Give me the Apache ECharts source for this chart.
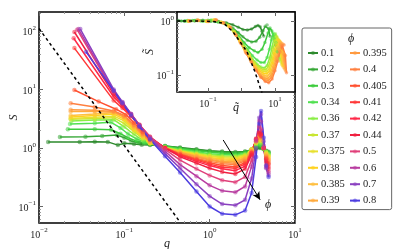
<!DOCTYPE html>
<html><head><meta charset="utf-8">
<script src="https://cdn.jsdelivr.net/npm/echarts@6/dist/echarts.min.js"></script>
<style>html,body{margin:0;padding:0;background:#fff}#c{width:395px;height:249px}</style>
</head><body><div id="c"></div>
<script>
// ---------- DATA ----------
const phis = ['0.1','0.2','0.3','0.34','0.36','0.37','0.375','0.38','0.385','0.39','0.395','0.4','0.405','0.41','0.42','0.44','0.5','0.6','0.7','0.8'];
const colors = ['#2d8a2d','#36a836','#3dcc3d','#50e050','#8aee45','#c8e632','#e8e030','#ffd21f','#ffbf40','#ffaa3c','#ff9a40','#ff8040','#ff5030','#ff3838','#ff2848','#f02040','#e0407a','#b83ca0','#8a40c0','#4c3ce0'];

// main panel: low-q points per phi [q, S]
const low01 = [[0.0128,1.27],[0.03,1.27],[0.045,1.28],[0.064,1.27],[0.084,1.12],[0.1,1.2],[0.13,1.17],[0.16,1.14]];
const low02 = [[0.0176,1.54],[0.035,1.55],[0.055,1.6],[0.082,1.66],[0.1,1.5],[0.12,1.32],[0.15,1.22]];
const low03 = [[0.0218,2.1],[0.045,2.1],[0.07,2.05],[0.09,1.75],[0.11,1.5],[0.14,1.3],[0.17,1.22]];
const low034 = [[0.0231,2.57],[0.045,2.65],[0.07,2.75],[0.09,2.2],[0.11,1.75],[0.14,1.42],[0.17,1.28]];
const low036 = [[0.024,2.9],[0.045,3.0],[0.075,3.05],[0.1,2.3],[0.13,1.7],[0.165,1.35]];
const low037 = [[0.0235,3.1],[0.045,3.2],[0.075,3.3],[0.1,2.6],[0.13,1.9],[0.165,1.45]];
const low0375 = [[0.0235,3.2],[0.045,3.35],[0.075,3.5],[0.1,2.9],[0.13,2.0],[0.165,1.5]];
const low038 = [[0.0235,3.4],[0.045,3.6],[0.075,3.8],[0.1,3.1],[0.13,2.1],[0.165,1.55]];
const low0385 = [[0.0235,3.6],[0.045,3.8],[0.075,4.0],[0.1,3.3],[0.13,2.2],[0.165,1.6]];
const low039 = [[0.0235,4.2],[0.045,4.2],[0.075,4.1],[0.1,3.4],[0.13,2.3],[0.165,1.65]];
const low0395 = [[0.0235,4.5],[0.045,4.4],[0.075,4.2],[0.1,3.5],[0.13,2.4],[0.165,1.7]];
const low04 = [[0.0235,5.8],[0.045,5.0],[0.075,4.3],[0.1,3.6],[0.13,2.5],[0.165,1.75]];
const low0405 = [[0.026,9.8],[0.05,6.2],[0.08,4.6],[0.105,3.7],[0.13,2.7],[0.165,1.85]];
const low041 = [[0.026,51],[0.075,6.5],[0.095,4.8],[0.12,3.5],[0.15,2.4]];
const low042 = [[0.0255,75],[0.075,7.5],[0.095,5.2],[0.12,3.6],[0.15,2.45]];
const low044 = [[0.026,96],[0.075,8.3],[0.095,5.6],[0.12,3.7],[0.15,2.5]];
const low05 = [[0.028,105],[0.075,9.0],[0.095,5.8],[0.12,3.8],[0.15,2.5]];
const low06 = [[0.029,108],[0.075,9.5],[0.095,6.0],[0.12,3.8],[0.15,2.45]];
const low07 = [[0.0305,108],[0.075,10],[0.095,6.1],[0.12,3.8],[0.15,2.4]];
const low08 = [[0.0356,44],[0.075,9.5],[0.095,5.8],[0.12,3.6],[0.15,2.3]];

// main panel: higher-q values on a shared q grid
const qTail = [0.2,0.3,0.45,0.7,1.0,1.4,2.0,2.6,3.1,3.5,3.8,4.0,4.3,4.6,4.9];
const tail01 = [1.12,1.08,1.02,0.95,0.9,0.87,0.85,0.87,0.92,0.98,1.0,1.0,0.95,0.9,0.86];
const tail02 = [1.15,1.08,1.0,0.93,0.88,0.85,0.83,0.86,0.93,1.02,1.06,1.05,0.96,0.88,0.84];
const tail03 = [1.17,1.07,0.98,0.9,0.85,0.81,0.8,0.84,0.93,1.06,1.12,1.1,0.96,0.86,0.82];
const tail034 = [1.2,1.05,0.95,0.86,0.8,0.77,0.76,0.8,0.92,1.1,1.18,1.15,0.96,0.85,0.8];
const tail036 = [1.2,1.03,0.92,0.83,0.77,0.74,0.73,0.78,0.93,1.15,1.26,1.22,0.97,0.83,0.78];
const tail037 = [1.2,1.02,0.9,0.8,0.74,0.71,0.7,0.76,0.95,1.2,1.32,1.3,1.0,0.85,0.75];
const tail0375 = [1.2,1.0,0.88,0.78,0.72,0.68,0.67,0.74,0.95,1.22,1.38,1.33,1.0,0.82,0.72];
const tail038 = [1.22,1.0,0.86,0.76,0.69,0.65,0.64,0.71,0.93,1.25,1.42,1.36,1.0,0.8,0.7];
const tail0385 = [1.25,1.0,0.85,0.74,0.67,0.62,0.61,0.68,0.92,1.28,1.48,1.4,1.0,0.78,0.67];
const tail039 = [1.28,1.0,0.84,0.72,0.64,0.59,0.58,0.66,0.9,1.3,1.52,1.45,1.0,0.75,0.64];
const tail0395 = [1.3,1.0,0.82,0.7,0.62,0.57,0.55,0.63,0.88,1.32,1.58,1.48,1.0,0.72,0.61];
const tail04 = [1.35,1.0,0.8,0.67,0.59,0.54,0.52,0.6,0.86,1.35,1.63,1.52,1.0,0.7,0.58];
const tail0405 = [1.4,1.0,0.78,0.64,0.56,0.5,0.48,0.56,0.84,1.38,1.7,1.57,1.0,0.67,0.55];
const tail041 = [1.45,1.0,0.76,0.62,0.53,0.47,0.45,0.53,0.82,1.4,1.75,1.62,1.0,0.64,0.52];
const tail042 = [1.5,1.0,0.74,0.59,0.5,0.44,0.41,0.49,0.8,1.42,1.8,1.66,1.0,0.6,0.48];
const tail044 = [1.55,1.0,0.71,0.55,0.45,0.39,0.36,0.44,0.76,1.45,1.9,1.75,1.0,0.56,0.44];
const tail05 = [1.55,0.95,0.62,0.44,0.34,0.28,0.26,0.32,0.62,1.4,2.3,2.1,1.0,0.5,0.4];
const tail06 = [1.5,0.88,0.52,0.33,0.23,0.185,0.175,0.22,0.48,1.3,2.9,2.8,1.1,0.47,0.37];
const tail07 = [1.45,0.8,0.45,0.24,0.15,0.11,0.105,0.13,0.3,1.0,3.3,3.8,1.3,0.45,0.34];
const tail08 = [1.4,0.72,0.38,0.18,0.1,0.075,0.072,0.085,0.17,0.7,2.6,4.3,1.5,0.5,0.32];

// main dashed guide line
const dashMain = [[0.01,110],[0.45,0.054]];
// arrow annotation (from, to) and its label position
const arrowFrom = [1.44,1.37];
const arrowTo = [3.9,0.13];
const arrowLabelAt = [4.85,0.108];

// inset: rescaled curves [q~, S~]
const in01 = [[0.013,1.02],[0.02,0.99],[0.03,1.0],[0.045,1.03],[0.07,1.0],[0.12,1.0],[0.2,0.98],[0.35,0.93],[0.55,0.85],[0.8,0.77],[1.1,0.7],[1.5,0.68],[2.0,0.71],[2.6,0.79],[3.1,0.83],[3.6,0.78],[4.1,0.65],[4.6,0.53]];
const in02 = [[0.016,1.0],[0.025,1.02],[0.04,1.0],[0.07,1.03],[0.12,0.99],[0.2,0.96],[0.35,0.88],[0.55,0.74],[0.8,0.61],[1.1,0.51],[1.5,0.44],[2.0,0.41],[2.7,0.42],[3.5,0.5],[4.4,0.66],[5.1,0.8],[5.8,0.84],[6.4,0.72],[7.1,0.52]];
const in03 = [[0.02,1.0],[0.035,1.02],[0.06,1.0],[0.1,1.03],[0.16,0.98],[0.25,0.94],[0.4,0.83],[0.6,0.66],[0.85,0.52],[1.2,0.4],[1.7,0.32],[2.4,0.28],[3.1,0.26],[4.1,0.3],[5.0,0.4],[6.2,0.6],[7.1,0.74],[8.0,0.66],[9.3,0.48],[10.5,0.36]];
const in034 = [[0.022,1.0],[0.04,1.02],[0.07,0.99],[0.12,1.03],[0.2,0.97],[0.32,0.9],[0.5,0.73],[0.75,0.54],[1.05,0.4],[1.5,0.3],[2.1,0.23],[2.9,0.19],[3.8,0.17],[4.8,0.17],[5.8,0.21],[6.8,0.3],[7.8,0.45],[8.8,0.6],[9.7,0.56],[10.7,0.4],[11.5,0.27]];
const in036 = [[0.025,1.0],[0.045,1.02],[0.08,1.0],[0.13,1.04],[0.22,0.96],[0.35,0.87],[0.55,0.68],[0.8,0.5],[1.1,0.37],[1.5,0.28],[2.1,0.2],[2.9,0.16],[3.8,0.14],[4.8,0.135],[5.8,0.15],[7.0,0.21],[8.2,0.33],[9.3,0.48],[10.3,0.58],[11.2,0.5],[12.2,0.32],[13.2,0.2]];
const in037 = [[0.025,1.0],[0.05,1.02],[0.09,0.99],[0.15,1.04],[0.25,0.95],[0.4,0.84],[0.6,0.64],[0.85,0.47],[1.2,0.33],[1.7,0.24],[2.4,0.17],[3.3,0.14],[4.3,0.127],[5.3,0.125],[6.4,0.145],[7.6,0.2],[8.8,0.3],[10.0,0.43],[11.2,0.52],[12.2,0.46],[13.3,0.3],[14.3,0.18]];
const in0375 = [[0.026,1.0],[0.05,1.03],[0.09,0.98],[0.15,1.05],[0.25,0.95],[0.4,0.83],[0.6,0.63],[0.85,0.46],[1.2,0.32],[1.7,0.23],[2.4,0.16],[3.3,0.13],[4.4,0.117],[5.5,0.115],[6.7,0.13],[8.0,0.18],[9.3,0.27],[10.7,0.38],[12.0,0.47],[13.2,0.43],[14.4,0.28],[15.6,0.16]];
const in038 = [[0.026,1.0],[0.05,1.02],[0.09,1.0],[0.16,1.04],[0.26,0.94],[0.42,0.8],[0.62,0.6],[0.88,0.43],[1.25,0.3],[1.75,0.21],[2.5,0.15],[3.4,0.12],[4.5,0.107],[5.7,0.105],[7.0,0.12],[8.4,0.165],[9.8,0.25],[11.3,0.35],[12.8,0.44],[14.0,0.42],[15.3,0.27],[16.6,0.15]];
const in0385 = [[0.027,1.0],[0.05,1.02],[0.1,0.98],[0.16,1.05],[0.27,0.93],[0.43,0.79],[0.64,0.58],[0.9,0.41],[1.3,0.28],[1.8,0.2],[2.6,0.14],[3.5,0.11],[4.6,0.098],[5.9,0.095],[7.3,0.11],[8.8,0.15],[10.3,0.23],[12.0,0.33],[13.6,0.42],[15.0,0.4],[16.3,0.26],[17.6,0.14]];
const in039 = [[0.027,1.0],[0.05,1.03],[0.1,0.99],[0.17,1.04],[0.28,0.93],[0.45,0.77],[0.66,0.56],[0.93,0.4],[1.3,0.27],[1.85,0.19],[2.6,0.13],[3.6,0.1],[4.8,0.089],[6.1,0.086],[7.6,0.1],[9.2,0.14],[10.9,0.21],[12.7,0.31],[14.6,0.39],[16.2,0.38],[17.7,0.25],[19.0,0.13]];
const in0395 = [[0.028,1.0],[0.05,1.02],[0.1,0.98],[0.17,1.05],[0.29,0.92],[0.46,0.76],[0.68,0.55],[0.95,0.39],[1.35,0.26],[1.9,0.18],[2.7,0.125],[3.7,0.095],[5.0,0.082],[6.3,0.079],[7.9,0.092],[9.6,0.13],[11.5,0.2],[13.5,0.29],[15.6,0.37],[17.4,0.37],[19.0,0.24],[20.5,0.12]];
const in04 = [[0.028,1.0],[0.05,1.03],[0.1,0.99],[0.18,1.04],[0.3,0.92],[0.48,0.75],[0.7,0.54],[0.98,0.38],[1.4,0.25],[2.0,0.17],[2.8,0.12],[3.8,0.09],[5.1,0.076],[6.5,0.072],[8.2,0.084],[10.0,0.12],[12.0,0.18],[14.2,0.27],[16.6,0.35],[18.6,0.36],[20.4,0.23],[22.0,0.11]];
const dashInset = [[0.012,1.0],[0.05,1.0],[0.15,0.98],[0.3,0.9],[0.56,0.63],[1.46,0.27],[2.53,0.114],[3.8,0.053],[4.1,0.047]];

// tick labels
const mainXTicks = [0.01,0.1,1,10];
const mainYTicks = [0.1,1,10,100];
const insetXTicks = [0.1,10];
const insetXMajor = [0.1,1,10];
const insetYTicks = [0.1,1];

// ---------- BUILD ----------
const mainLow = [low01,low02,low03,low034,low036,low037,low0375,low038,low0385,low039,low0395,low04,low0405,low041,low042,low044,low05,low06,low07,low08];
const mainTail = [tail01,tail02,tail03,tail034,tail036,tail037,tail0375,tail038,tail0385,tail039,tail0395,tail04,tail0405,tail041,tail042,tail044,tail05,tail06,tail07,tail08];
const insetData = [in01,in02,in03,in034,in036,in037,in0375,in038,in0385,in039,in0395,in04];

const FONT = 'Liberation Serif';
const TXT = '#222';
function minors(lo, hi) {
  const out = [];
  for (let e = lo; e <= hi; e++) for (let m = 2; m <= 9; m++) out.push(+(m * Math.pow(10, e)).toPrecision(6));
  return out;
}
function sup(v) {
  const e = Math.round(Math.log10(v));
  return '{b|10}{s|' + (e < 0 ? '\u2212' + (-e) : e) + '}';
}
const rich = {
  b: {fontFamily: FONT, fontSize: 10, color: TXT, lineHeight: 13, verticalAlign: 'bottom'},
  s: {fontFamily: FONT, fontSize: 7, color: TXT, lineHeight: 8, verticalAlign: 'top'}
};
function ax(o) {
  return Object.assign({
    type: 'log', logBase: 10, splitLine: {show: false}, axisLine: {show: false},
    axisLabel: {show: false}, axisTick: {show: false}, silent: true, axisPointer: {show: false},
    nameMoveOverlap: false
  }, o);
}
function ticks(vals, len, color) {
  return {show: true, inside: true, length: len, customValues: vals, lineStyle: {color: color || '#666', width: 1}};
}

const MX = [0.01, 10], MY = [0.0522, 211];
const IX = [0.0119, 39.5], IY = [0.0484, 1.47];
const nameStyle = {fontFamily: FONT, fontStyle: 'italic', fontSize: 12, color: TXT};

const xAxis = [
  ax({gridIndex: 0, min: MX[0], max: MX[1], position: 'bottom', axisTick: ticks(mainXTicks, 4),
      axisLabel: {show: true, customValues: mainXTicks, formatter: sup, rich: rich, margin: 4},
      name: 'q', nameLocation: 'middle', nameGap: 15, nameTextStyle: nameStyle}),
  ax({gridIndex: 0, min: MX[0], max: MX[1], position: 'bottom', axisTick: ticks(minors(-2, 0), 2, '#999')}),
  ax({gridIndex: 0, min: MX[0], max: MX[1], position: 'top', axisTick: ticks(mainXTicks, 4)}),
  ax({gridIndex: 0, min: MX[0], max: MX[1], position: 'top', axisTick: ticks(minors(-2, 0), 2, '#999')}),
  ax({gridIndex: 1, zlevel: 1, min: IX[0], max: IX[1], position: 'bottom', axisTick: ticks(insetXMajor, 4),
      axisLabel: {show: true, customValues: insetXTicks, formatter: sup, rich: rich, margin: 4},
      name: 'q\u0303', nameLocation: 'middle', nameGap: 10, nameTextStyle: nameStyle}),
  ax({gridIndex: 1, zlevel: 1, min: IX[0], max: IX[1], position: 'top', axisTick: ticks(insetXMajor, 4)})
];
const yAxis = [
  ax({gridIndex: 0, min: MY[0], max: MY[1], position: 'left', axisTick: ticks(mainYTicks, 4),
      axisLabel: {show: true, customValues: mainYTicks, formatter: sup, rich: rich, margin: 3},
      name: 'S', nameLocation: 'middle', nameGap: 19, nameRotate: 90, nameTextStyle: nameStyle}),
  ax({gridIndex: 0, min: MY[0], max: MY[1], position: 'left', axisTick: ticks(minors(-2, 2), 2, '#999')}),
  ax({gridIndex: 0, min: MY[0], max: MY[1], position: 'right', axisTick: ticks(mainYTicks, 4)}),
  ax({gridIndex: 0, min: MY[0], max: MY[1], position: 'right', axisTick: ticks(minors(-2, 2), 2, '#999')}),
  ax({gridIndex: 1, zlevel: 1, min: IY[0], max: IY[1], position: 'left', axisTick: ticks(insetYTicks, 4),
      axisLabel: {show: true, customValues: insetYTicks, formatter: sup, rich: rich, margin: 3},
      name: 'S\u0303', nameLocation: 'middle', nameGap: 21, nameRotate: 90, nameTextStyle: nameStyle}),
  ax({gridIndex: 1, zlevel: 1, min: IY[0], max: IY[1], position: 'left', axisTick: ticks(minors(-2, 0), 2, '#999')}),
  ax({gridIndex: 1, zlevel: 1, min: IY[0], max: IY[1], position: 'right', axisTick: ticks(insetYTicks, 4)})
];

const series = [];
mainLow.forEach((low, i) => {
  const data = low.concat(qTail.map((q, j) => [q, mainTail[i][j]]));
  series.push({
    name: phis[i], type: 'line', xAxisIndex: 0, yAxisIndex: 0, data: data,
    symbol: 'circle', symbolSize: 4.5, showSymbol: true, clip: true,
    lineStyle: {width: 1.5, color: colors[i]},
    itemStyle: {color: colors[i], opacity: 0.55},
    emphasis: {disabled: true}, z: 3
  });
});
series.push({
  name: 'guide', type: 'line', xAxisIndex: 0, yAxisIndex: 0, data: dashMain, symbol: 'none',
  lineStyle: {color: '#000', width: 1.5, type: [3, 3]}, z: 4, emphasis: {disabled: true},
  markLine: {
    silent: true, symbol: ['none', 'arrow'], symbolSize: [6, 8], animation: false,
    lineStyle: {color: '#000', width: 1, type: 'solid'}, label: {show: false},
    data: [[{coord: arrowFrom}, {coord: arrowTo}]]
  },
  markPoint: {
    silent: true, symbol: 'circle', symbolSize: 1, animation: false,
    itemStyle: {color: 'rgba(0,0,0,0)'},
    label: {show: true, position: 'inside', formatter: '\u03d5', fontFamily: FONT, fontStyle: 'italic', fontSize: 12, color: TXT},
    data: [{coord: arrowLabelAt}]
  }
});
insetData.forEach((d, i) => {
  series.push({
    name: phis[i], type: 'line', xAxisIndex: 4, yAxisIndex: 4, data: d, zlevel: 1,
    symbol: 'circle', symbolSize: 3.5, showSymbol: true,
    lineStyle: {width: 1.5, color: colors[i]},
    itemStyle: {color: colors[i], opacity: 0.55},
    emphasis: {disabled: true}, z: 3
  });
});
series.push({
  name: 'guideInset', type: 'line', xAxisIndex: 4, yAxisIndex: 4, data: dashInset, zlevel: 1, symbol: 'none',
  lineStyle: {color: '#000', width: 1.5, type: [3, 3]}, z: 4, emphasis: {disabled: true}
});

const chart = echarts.init(document.getElementById('c'), null, {renderer: 'canvas'});
chart.setOption({
  animation: false,
  backgroundColor: '#fff',
  title: {text: '\u03d5', left: 343, top: 28, textStyle: {fontFamily: FONT, fontStyle: 'italic', fontWeight: 'normal', fontSize: 12, color: TXT}},
  grid: [
    {left: 39, top: 12, width: 256, height: 211, show: true, borderColor: '#000', borderWidth: 1.5, backgroundColor: 'transparent', containLabel: false, outerBoundsMode: 'none'},
    {left: 177, top: 12, width: 118, height: 80, show: true, borderColor: '#000', borderWidth: 1.5, backgroundColor: '#fff', zlevel: 1, containLabel: false, outerBoundsMode: 'none'}
  ],
  legend: {
    data: phis, orient: 'vertical', left: 302, top: 28, height: 176,
    padding: [19, 5, 3, 5], itemGap: 4.4, itemWidth: 10, itemHeight: 5,
    borderColor: '#666', borderWidth: 1, borderRadius: 2, backgroundColor: '#fff',
    textStyle: {fontFamily: FONT, fontSize: 10.5, color: TXT, lineHeight: 12, padding: [0, 0, 0, -2]},
    selectedMode: false
  },
  xAxis: xAxis,
  yAxis: yAxis,
  series: series
});
</script>
</body></html>
